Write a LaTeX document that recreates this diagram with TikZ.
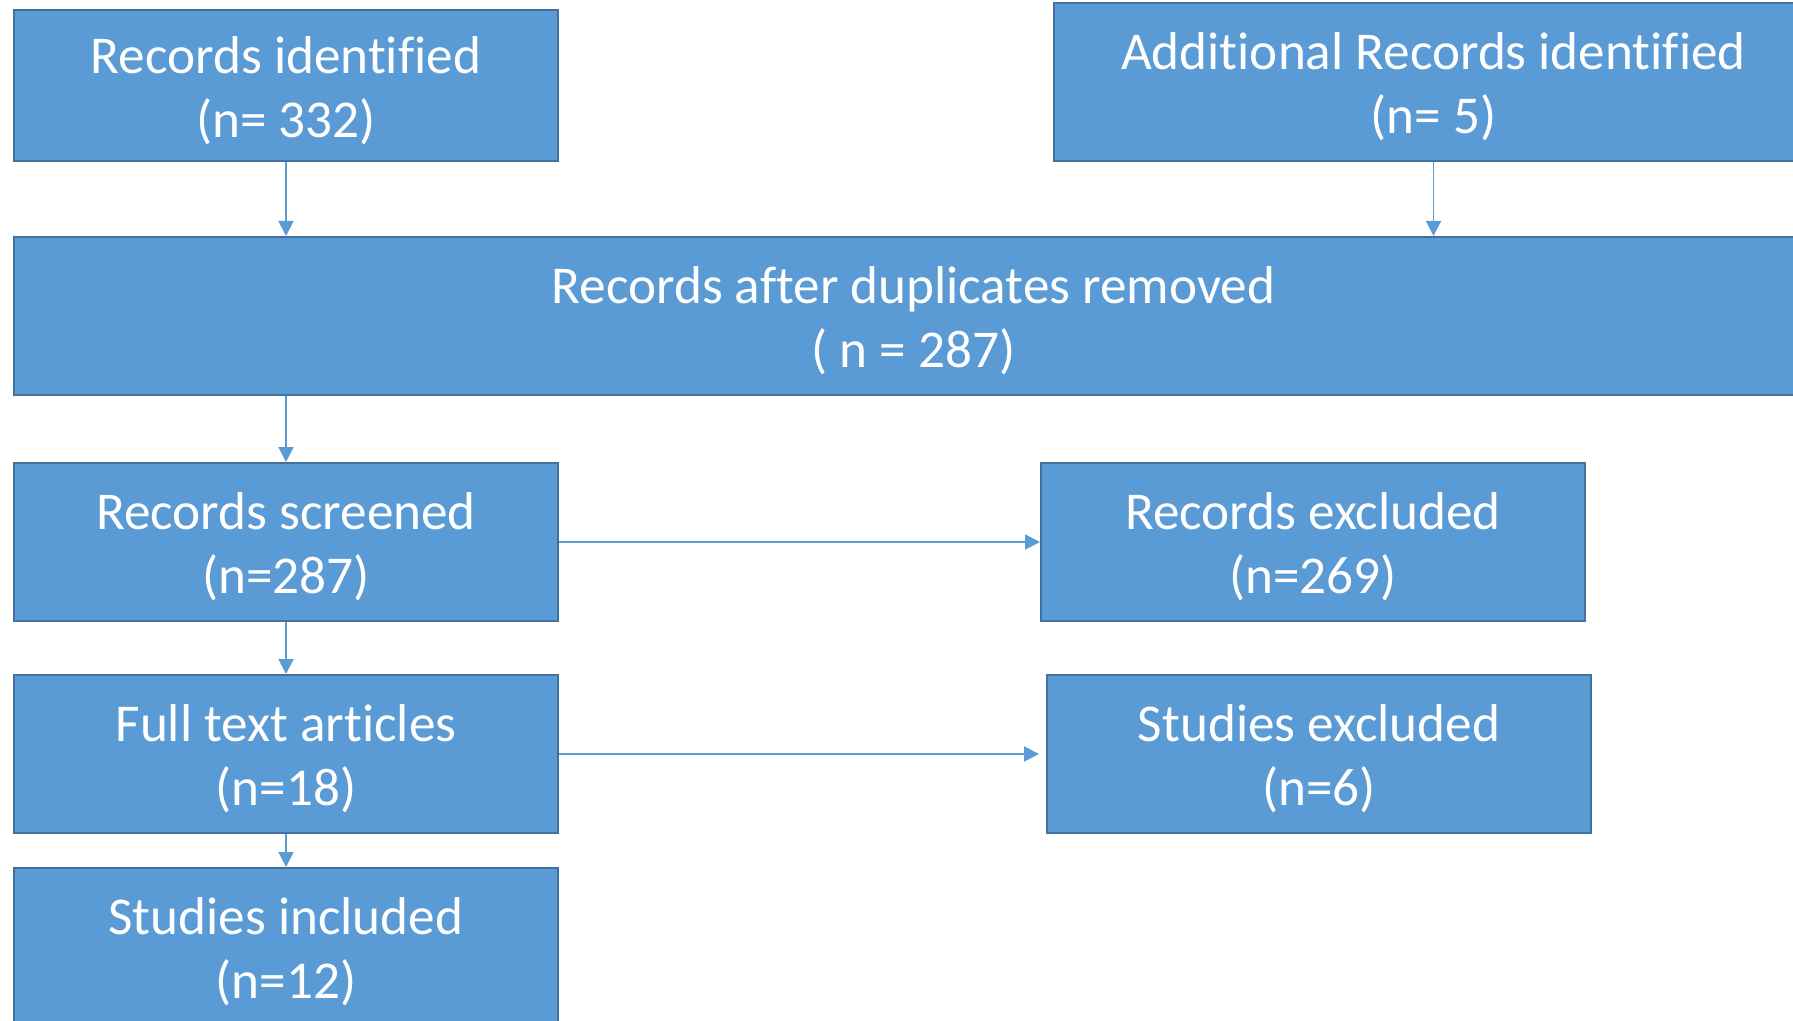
\documentclass[tikz,border=0pt]{standalone}
\usepackage{fontspec}
\setmainfont[Ligatures={NoCommon}]{Carlito}
\usetikzlibrary{arrows.meta,calc}
\definecolor{boxfill}{HTML}{5B9BD5}
\definecolor{boxline}{HTML}{41719C}
\newcommand{\lineonestrut}{\rule{0pt}{23.5pt}}
\tikzset{
  box/.style={draw=boxline, line width=1pt, fill=boxfill, text=white,
    inner sep=0pt, align=center, font=\fontsize{26.6}{32}\selectfont},
  conn/.style={draw=boxfill, line width=0.9pt,
    -{Triangle[length=7.5pt,width=7.5pt]}}
}
\begin{document}
\begin{tikzpicture}[x=0.5pt,y=-0.5pt]
\path[use as bounding box, clip] (0,0) rectangle (1793,1021);
\fill[white] (0,0) rectangle (1793,1021);
\node[box, minimum width=272pt, minimum height=75.5pt] (b1) at (286,85.5) {\lineonestrut Records identified\\(n= 332)};
\node[box, minimum width=379.5pt, minimum height=79pt] (b2) at (1433.5,82) {\lineonestrut Additional Records identified\\(n= 5)};
\node[box, minimum width=899.5pt, minimum height=79pt] (dup) at (913.5,316) {\lineonestrut Records after duplicates removed\\( n = 287)};
\node[box, minimum width=272pt, minimum height=79pt] (scr) at (286,542) {\lineonestrut Records screened\\(n=287)};
\node[box, minimum width=272pt, minimum height=79pt] (rexc) at (1313,542) {\lineonestrut Records excluded\\(n=269)};
\node[box, minimum width=272pt, minimum height=79pt] (full) at (286,754) {\lineonestrut Full text articles\\(n=18)};
\node[box, minimum width=272pt, minimum height=79pt] (sexc) at (1319,754) {\lineonestrut Studies excluded\\(n=6)};
\node[box, minimum width=272pt, minimum height=79pt] (inc) at (286,947) {\lineonestrut Studies included\\(n=12)};
\draw[conn] (b1.south) -- (b1.south |- dup.north);
\draw[conn] (b2.south) -- (b2.south |- dup.north);
\draw[conn] (dup.south -| b1.south) -- (scr.north);
\draw[conn] (scr.south) -- (full.north);
\draw[conn] (full.south) -- (inc.north);
\draw[conn] (scr.east) -- (rexc.west);
\draw[conn, shorten >=3.5pt] (full.east) -- (sexc.west);
\end{tikzpicture}
\end{document}
